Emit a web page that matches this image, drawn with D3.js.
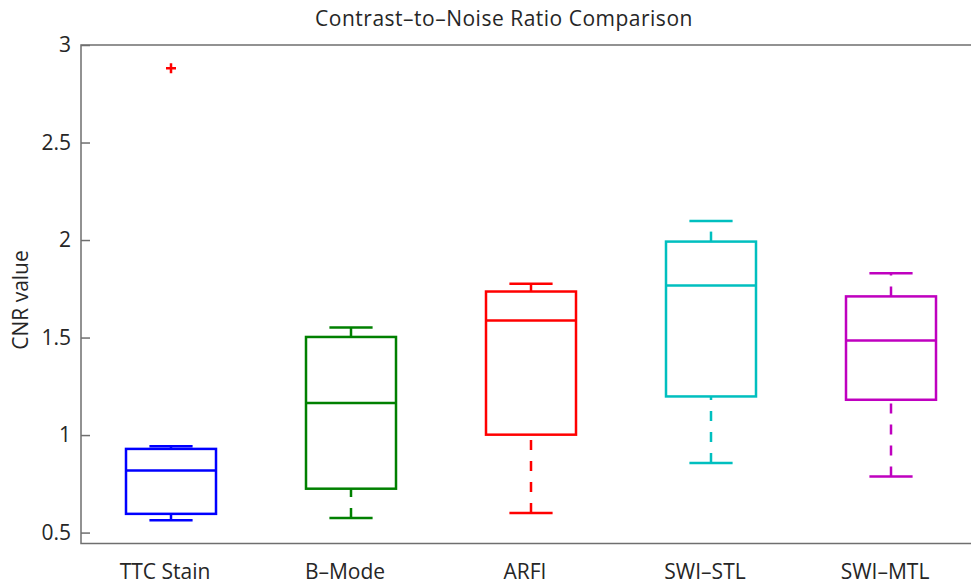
<!DOCTYPE html>
<html>
<head>
<meta charset="utf-8">
<script src="https://cdn.jsdelivr.net/npm/d3@7"></script>
<style>
  body { margin: 0; background: #fff; }
  svg { display: block; font-family: "Open Sans", sans-serif; }
</style>
</head>
<body>
<div id="chart"></div>
<script>
// Data
const categories = ['TTC Stain', 'B\u2013Mode', 'ARFI', 'SWI\u2013STL', 'SWI\u2013MTL'];
const colors = ['#0000ff', '#008000', '#ff0000', '#00bfbf', '#bf00bf'];
const lowerWhisker = [0.563, 0.575, 0.601, 0.857, 0.788];
const q1 = [0.596, 0.725, 1.002, 1.198, 1.181];
const median = [0.818, 1.164, 1.588, 1.767, 1.485];
const q3 = [0.929, 1.503, 1.736, 1.992, 1.711];
const upperWhisker = [0.942, 1.552, 1.776, 2.098, 1.830];
const outliers = [{ cat: 'TTC Stain', value: 2.881 }];
const yTicks = [0.5, 1, 1.5, 2, 2.5, 3];

const boxes = categories.map((c, i) => ({
  cat: c,
  color: colors[i],
  lo: lowerWhisker[i],
  q1: q1[i],
  med: median[i],
  q3: q3[i],
  hi: upperWhisker[i]
}));

// Dimensions
const dims = {
  width: 971,
  height: 586,
  left: 81,
  right: 981,
  top: 45,
  bottom: 543.5
};
const fontSize = '21px';

const svg = d3.select('#chart')
  .append('svg')
  .attr('width', dims.width)
  .attr('height', dims.height);

// Scales
const xScale = d3.scaleBand()
  .domain(categories)
  .range([dims.left, dims.right])
  .padding(0);

const yScale = d3.scaleLinear()
  .domain([0.444, 3])
  .range([dims.bottom, dims.top]);

const bw = xScale.bandwidth();
const cx = d => xScale(d.cat) + bw / 2;

// Axes frame
const axisColor = '#6f6f6f';
const textColor = '#262626';

const yAxisL = d3.axisLeft(yScale)
  .tickValues(yTicks)
  .tickSizeInner(-9)
  .tickSizeOuter(0)
  .tickPadding(10)
  .tickFormat(d3.format('~g'));

const yAxisR = d3.axisRight(yScale)
  .tickValues(yTicks)
  .tickSizeInner(-9)
  .tickSizeOuter(0)
  .tickFormat('');

const gl = svg.append('g')
  .attr('transform', `translate(${dims.left},0)`)
  .call(yAxisL);

const gr = svg.append('g')
  .attr('transform', `translate(${dims.right},0)`)
  .call(yAxisR);

[gl, gr].forEach(g => {
  g.select('.domain').remove();
  g.selectAll('.tick line').attr('stroke', axisColor).attr('stroke-width', 1.5);
  g.selectAll('.tick text')
    .attr('fill', textColor)
    .style('font-size', fontSize)
    .style('font-family', '"Open Sans", sans-serif');
});

svg.append('rect')
  .attr('x', dims.left)
  .attr('y', dims.top)
  .attr('width', dims.right - dims.left)
  .attr('height', dims.bottom - dims.top)
  .attr('fill', 'none')
  .attr('stroke', axisColor)
  .attr('stroke-width', 1.5);

// x labels
const xAxis = d3.axisBottom(xScale)
  .tickSize(0)
  .tickPadding(21);

const gx = svg.append('g')
  .attr('transform', `translate(0,${dims.bottom})`)
  .call(xAxis);

gx.select('.domain').remove();
gx.selectAll('.tick text')
  .attr('fill', textColor)
  .attr('dx', -6)
  .style('font-size', fontSize)
  .style('font-family', '"Open Sans", sans-serif');

// Boxes
const g = svg.append('g')
  .selectAll('g')
  .data(boxes)
  .join('g')
  .attr('stroke', d => d.color)
  .attr('stroke-width', 2.5)
  .attr('fill', 'none');

// whiskers, dashed, drawn upwards
g.append('line')
  .attr('x1', cx).attr('x2', cx)
  .attr('y1', d => yScale(d.lo))
  .attr('y2', d => yScale(d.q1))
  .attr('stroke-dasharray', '10,11');

g.append('line')
  .attr('x1', cx).attr('x2', cx)
  .attr('y1', d => yScale(d.q3))
  .attr('y2', d => yScale(d.hi))
  .attr('stroke-dasharray', '10,11');

// caps
[d => d.lo, d => d.hi].forEach(acc => {
  g.append('line')
    .attr('x1', d => cx(d) - bw * 0.12)
    .attr('x2', d => cx(d) + bw * 0.12)
    .attr('y1', d => yScale(acc(d)))
    .attr('y2', d => yScale(acc(d)));
});

g.append('rect')
  .attr('x', d => cx(d) - bw * 0.25)
  .attr('width', bw * 0.5)
  .attr('y', d => yScale(d.q3))
  .attr('height', d => yScale(d.q1) - yScale(d.q3));

g.append('line')
  .attr('x1', d => cx(d) - bw * 0.25)
  .attr('x2', d => cx(d) + bw * 0.25)
  .attr('y1', d => yScale(d.med))
  .attr('y2', d => yScale(d.med));

// outliers
svg.append('g')
  .selectAll('path')
  .data(outliers)
  .join('path')
  .attr('transform', d => `translate(${xScale(d.cat) + bw / 2},${yScale(d.value)})`)
  .attr('d', 'M-5,0H5M0,-5V5')
  .attr('stroke', '#ff0000')
  .attr('stroke-width', 2.5);

// title and y label
svg.append('text')
  .attr('x', 504)
  .attr('y', 26)
  .attr('text-anchor', 'middle')
  .attr('fill', textColor)
  .style('font-size', fontSize)
  .style('letter-spacing', '0.5px')
  .text('Contrast\u2013to\u2013Noise Ratio Comparison');

svg.append('text')
  .attr('transform', 'translate(28,300) rotate(-90)')
  .attr('text-anchor', 'middle')
  .attr('fill', textColor)
  .style('font-size', fontSize)
  .text('CNR value');
</script>
</body>
</html>
